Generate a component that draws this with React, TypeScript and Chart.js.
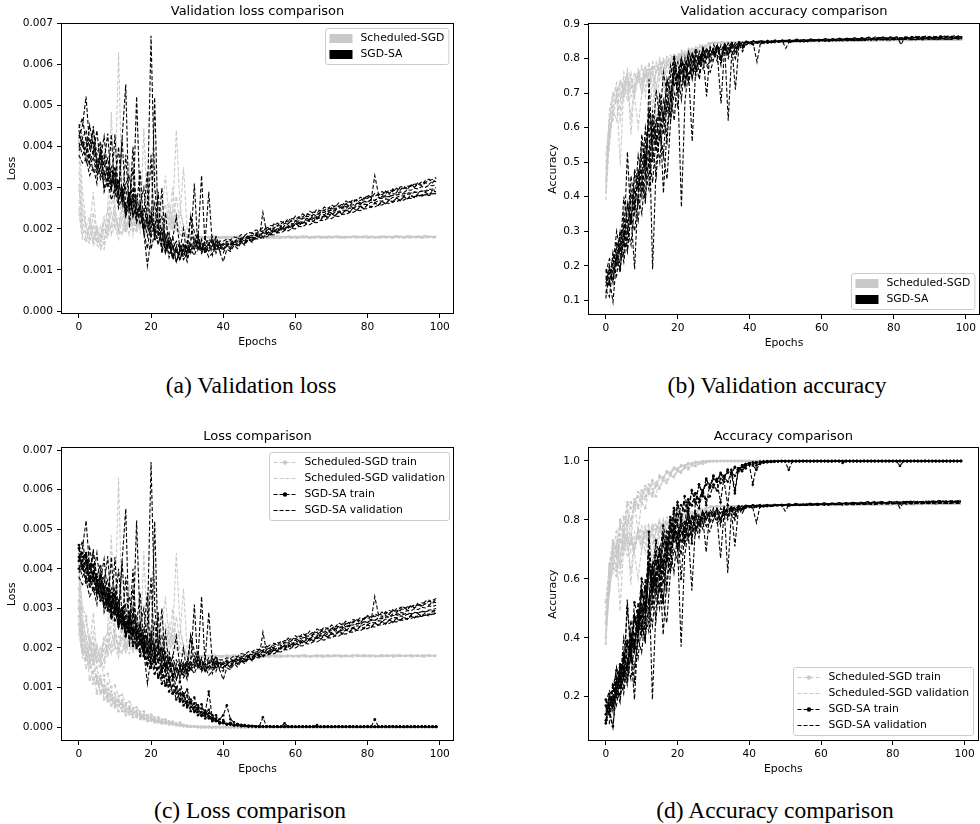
import React, { useEffect, useRef } from "react";
import { Chart, registerables } from "chart.js";

Chart.register(...registerables);

const FONT = "'DejaVu Sans', 'Liberation Sans', sans-serif";
const GRAY = "#c9c9c9";
const BLACK = "#000000";

// ---------- axes ----------
const EPOCHS = Array.from({ length: 100 }, (_, i) => i);
const X_TICKS = [0, 20, 40, 60, 80, 100];
const LOSS_TICKS = [0, 0.001, 0.002, 0.003, 0.004, 0.005, 0.006, 0.007];
const VAL_ACC_TICKS = [0.1, 0.2, 0.3, 0.4, 0.5, 0.6, 0.7, 0.8, 0.9];
const ACC_TICKS = [0.2, 0.4, 0.6, 0.8, 1.0];

// values below are stored in these units
const LOSS_UNIT = 1e-5; // loss values x 1e-5
const ACC_UNIT = 1e-3; // accuracy in per-mille

// ---------- Scheduled-SGD validation loss (8 runs) ----------
const SCHED_VAL_LOSS = [
  [380,250,205,230,178,210,170,215,200,260, 290,630,270,205,240,228,198,236,205,188, 240,198,226,190,205,186,221,196,188,182, 180,181,179,180,178,180,179,181,180,179, 180,178,179,181,180,179,180,178,179,180, 179,180,181,179,178,180,179,181,180,179, 180,179,181,180,178,180,181,179,180,181, 180,179,181,180,182,179,180,181,180,179, 181,180,179,181,180,182,180,179,181,180, 179,181,180,182,180,179,181,180,181,180],
  [300,220,185,210,168,200,180,220,240,485, 230,205,250,210,185,240,230,190,225,195, 210,185,230,200,185,210,240,440,260,200, 183,180,181,179,180,178,179,177,178,176, 177,176,178,177,175,177,176,178,177,176, 177,178,176,177,178,176,177,179,177,178, 176,177,178,177,179,178,177,178,176,178, 177,179,178,177,178,179,177,178,179,178, 177,178,179,177,178,179,178,177,179,178, 178,179,177,178,179,178,177,179,178,179],
  [270,200,175,165,210,160,152,200,195,240, 205,190,250,195,230,210,255,200,445,230, 200,235,215,250,330,220,195,235,185,182, 181,182,180,181,182,180,181,179,181,180, 181,182,180,181,180,182,181,180,181,182, 180,181,182,180,181,183,181,180,182,181, 182,180,181,183,181,182,180,182,181,183, 181,182,183,181,182,180,182,183,181,182, 183,181,182,180,182,183,181,182,183,182, 181,183,182,181,183,182,184,182,181,183],
  [250,185,168,200,290,180,160,150,205,190, 225,200,190,245,360,210,190,235,195,180, 220,200,260,195,218,185,230,200,186,183, 178,177,179,178,176,178,177,179,178,177, 178,179,177,178,176,178,179,177,178,179, 178,177,179,178,180,178,177,179,178,180, 179,178,180,179,177,179,180,178,179,180, 178,180,179,178,180,179,181,179,178,180, 179,181,180,178,180,179,181,180,179,181, 180,179,181,180,179,181,180,182,180,181],
  [340,240,200,180,165,200,150,170,220,200, 240,195,185,220,270,185,260,205,230,215, 200,380,220,195,200,260,215,235,230,350, 200,185,182,181,180,182,181,180,179,181, 180,181,179,180,182,180,181,179,180,181, 182,180,179,181,180,182,181,180,179,181, 180,182,181,179,180,181,182,180,181,179, 181,180,182,181,180,179,181,182,180,181, 180,182,181,180,181,179,182,181,180,182, 181,180,182,181,179,181,180,182,181,180],
  [420,290,210,180,195,165,185,230,180,210, 260,185,300,200,225,190,240,205,250,210, 230,200,245,210,235,205,250,220,200,190, 181,180,182,181,179,181,180,182,181,180, 179,181,180,182,181,180,179,181,182,180, 181,179,180,182,181,180,181,179,182,180, 181,180,182,181,179,180,182,181,180,181, 180,182,181,179,181,180,182,181,180,182, 181,180,179,181,182,180,181,180,182,181, 180,181,182,180,181,179,181,182,180,181],
  [240,175,170,215,160,175,205,165,250,185, 205,175,230,190,215,250,200,235,195,260, 215,240,205,230,260,210,300,215,240,210, 179,178,180,179,177,179,178,180,179,178, 177,179,178,180,179,178,177,179,180,178, 179,177,178,180,179,178,179,177,180,178, 179,178,180,179,177,178,180,179,178,179, 178,180,179,177,179,178,180,179,178,180, 179,178,177,179,180,178,179,178,180,179, 178,179,180,178,179,177,179,180,178,179],
  [310,200,190,170,240,165,175,200,185,330, 200,230,210,190,240,205,215,300,200,225, 250,210,235,200,220,240,205,280,215,195, 182,181,183,182,180,182,181,183,182,181, 180,182,181,183,182,181,180,182,183,181, 182,180,181,183,182,181,182,180,183,181, 182,181,183,182,180,181,183,182,181,182, 181,183,182,180,182,181,183,182,181,183, 182,181,180,182,183,181,182,181,183,182, 181,182,183,181,182,180,182,183,181,182],
];

// ---------- SGD-SA validation loss (9 runs) ----------
const SGDSA_VAL_LOSS = [
  [455,420,440,395,410,360,385,330,350,300, 320,270,300,240,280,262,215,250,200,262, 670,302,212,230,173,190,151,170,153,146, 170,141,162,190,146,175,161,156,180,161, 150,164,158,170,163,175,170,181,174,186, 187,181,196,189,201,193,207,199,214,206, 220,212,226,227,221,236,229,241,245,236, 251,243,256,249,262,254,267,271,262,276, 279,270,330,285,277,292,284,297,288,302, 304,295,309,301,314,306,318,321,312,324],
  [420,452,522,400,440,380,412,350,372,310, 352,290,422,552,203,302,230,262,192,151, 222,262,182,200,151,170,131,150,136,160, 141,175,181,150,171,141,161,180,141,166, 151,161,150,168,160,170,165,178,170,185, 178,240,192,185,198,191,203,196,209,201, 214,206,219,212,224,217,228,221,233,226, 238,230,242,235,246,240,251,244,255,248, 259,252,263,257,267,260,271,264,275,268, 279,272,283,276,286,280,289,283,292,290],
  [398,420,378,452,400,372,330,362,432,302, 340,262,300,232,272,242,522,252,222,182, 240,192,162,200,141,170,131,121,150,131, 162,232,192,172,330,152,131,141,170,146, 141,160,150,166,159,171,166,177,170,183, 182,191,186,198,191,202,197,208,202,213, 212,220,213,225,223,231,224,236,234,242, 239,247,240,252,249,258,250,262,259,268, 264,272,268,277,274,282,278,286,284,290, 288,295,294,299,297,303,301,306,305,308],
  [440,400,420,360,390,340,370,425,330,340, 300,320,270,300,250,400,230,260,190,110, 180,210,165,190,140,170,125,150,122,160, 132,165,150,180,150,170,290,160,180,145, 120,150,145,160,152,168,160,175,167,180, 180,176,190,184,196,190,202,196,207,201, 213,207,219,213,224,218,229,223,234,228, 238,232,243,237,247,241,251,245,255,250, 259,253,263,258,267,261,271,266,275,270, 277,273,280,276,282,279,284,281,286,285],
  [430,400,410,370,450,350,380,320,350,300, 330,280,420,250,280,230,260,340,200,230, 180,520,190,300,150,180,130,160,125,150, 120,160,310,150,175,140,170,135,160,150, 165,158,172,166,178,172,184,180,190,186, 197,192,205,199,212,207,218,213,225,219, 231,225,237,231,243,237,248,243,253,248, 258,253,263,258,268,262,272,268,277,272, 282,276,286,281,291,285,295,290,299,294, 303,298,306,301,309,305,312,308,316,315],
  [410,380,400,350,375,330,350,300,330,290, 430,270,300,250,290,230,260,210,240,340, 150,190,290,140,175,130,160,120,150,125, 140,230,155,170,145,160,150,175,150,165, 160,170,165,173,170,178,176,184,183,190, 190,195,196,201,202,207,208,213,214,219, 219,224,225,230,230,235,235,240,240,245, 245,250,250,254,254,258,258,262,262,266, 266,270,270,274,274,278,278,282,282,285, 285,288,287,290,289,292,291,294,294,295],
  [390,410,360,380,340,360,320,340,300,430, 280,320,260,380,240,280,230,260,300,200, 230,180,210,160,240,150,180,140,165,135, 160,145,175,150,165,140,155,150,170,160, 158,166,162,170,168,175,172,180,178,185, 183,190,188,195,193,200,198,205,203,210, 208,216,213,221,218,226,224,231,229,236, 234,241,239,246,244,251,249,256,254,260, 259,265,263,269,267,273,271,277,276,281, 280,285,284,289,288,293,292,296,297,300],
  [445,470,410,420,380,440,350,380,320,350, 300,400,280,310,330,260,280,230,250,210, 230,190,210,170,190,160,175,230,150,165, 145,160,150,170,155,160,175,165,160,170, 170,175,173,180,178,186,184,191,190,197, 196,203,201,208,207,214,212,219,218,225, 223,230,229,236,234,241,239,246,245,251, 249,256,254,261,259,266,264,271,269,275, 274,280,279,285,283,290,288,294,293,299, 298,304,303,309,308,314,313,318,320,325],
  [380,360,370,330,350,310,400,290,320,270, 300,250,280,230,260,350,220,240,190,220, 380,170,190,150,175,140,160,120,145,200, 130,150,135,160,140,155,145,160,150,155, 148,158,155,162,160,166,165,172,170,176, 175,181,180,186,185,191,190,196,195,201, 200,206,205,211,210,216,215,221,220,226, 225,231,230,236,235,240,240,245,244,249, 249,254,253,258,258,263,262,267,266,271, 270,275,274,279,278,283,282,286,285,288],
];

// ---------- Scheduled-SGD validation accuracy (8 runs) ----------
const SCHED_VAL_ACC = [
  [390,560,640,690,620,720,680,740,700,750, 700,760,730,770,720,770,750,790,760,800, 780,810,790,820,800,830,815,835,825,840, 845,846,845,847,846,848,847,848,847,848, 849,848,847,849,848,850,849,848,850,849, 848,850,849,851,850,849,850,851,849,850, 851,850,849,851,850,852,851,850,851,852, 850,851,852,851,850,852,851,853,852,851, 852,853,851,852,853,852,851,853,852,854, 853,852,854,853,852,853,854,853,852,854],
  [450,600,660,700,490,720,760,690,720,760, 700,750,770,720,760,780,740,790,760,800, 805,780,800,820,800,830,820,832,840,842, 846,845,847,846,845,847,846,848,847,846, 847,848,846,847,849,848,847,849,848,847, 849,848,850,849,848,850,849,848,850,849, 850,849,851,850,849,851,850,852,851,850, 851,852,850,851,852,851,853,852,851,852, 853,851,852,853,852,854,853,852,853,852, 854,853,852,854,853,855,854,853,854,855],
  [520,620,700,720,680,730,750,580,720,740, 770,720,760,780,600,770,790,760,800,810, 790,815,800,820,830,810,835,825,838,843, 845,844,846,845,847,846,845,847,846,848, 847,846,848,847,849,848,847,849,848,850, 849,848,850,849,851,850,849,851,850,849, 851,850,852,851,850,852,851,850,852,851, 853,852,851,853,852,851,853,852,854,853, 852,854,853,852,854,853,855,854,853,854, 855,854,853,855,854,853,855,854,856,855],
  [420,580,650,620,720,740,700,760,690,600, 700,760,720,760,790,740,800,550,790,805, 780,820,800,825,810,835,820,838,830,844, 846,847,846,848,847,846,848,847,849,848, 847,849,848,850,849,848,850,849,848,850, 849,851,850,849,851,850,852,851,850,851, 852,851,850,852,851,853,852,851,853,852, 851,853,852,854,853,852,853,854,853,852, 854,853,855,854,853,855,854,853,855,854, 853,855,854,856,855,854,855,856,855,854],
  [480,620,690,710,650,760,720,730,700,770, 730,780,720,790,760,800,770,810,780,815, 800,825,810,830,815,832,825,842,835,846, 847,846,848,847,846,848,847,849,848,847, 849,848,850,849,848,850,849,851,850,849, 850,851,849,850,852,851,850,852,851,850, 852,851,853,852,851,852,853,852,851,853, 852,854,853,852,854,853,852,854,853,855, 854,853,855,854,853,855,854,856,855,854, 855,856,854,855,856,855,854,856,855,856],
  [440,650,700,670,740,700,770,740,690,750, 780,740,790,650,780,760,800,780,810,790, 815,800,825,810,830,820,838,828,842,845, 846,847,845,848,846,847,849,847,848,846, 848,849,847,848,850,848,849,847,849,850, 848,849,851,849,850,848,850,851,849,850, 852,850,851,849,851,852,850,851,853,851, 852,850,852,853,851,852,854,852,853,851, 853,854,852,853,851,853,854,852,853,855, 853,854,852,854,855,853,854,852,854,855],
  [500,540,680,730,700,680,740,710,760,730, 750,690,770,750,700,790,760,800,780,720, 810,790,820,805,830,815,840,830,844,846, 847,845,848,846,847,845,848,846,849,847, 848,846,849,847,850,848,849,847,850,848, 851,849,850,848,851,849,852,850,851,849, 852,850,853,851,852,850,853,851,854,852, 853,851,854,852,853,851,854,852,855,853, 854,852,855,853,854,852,855,853,856,854, 855,853,856,854,855,853,856,854,855,854],
  [410,600,620,700,730,690,750,620,740,760, 720,770,740,780,760,800,720,790,800,810, 790,820,800,830,820,835,828,840,836,846, 848,847,849,848,846,848,847,849,848,847, 849,848,850,849,847,849,848,850,849,848, 850,849,851,850,848,850,849,851,850,849, 851,850,852,851,849,851,850,852,851,850, 852,851,853,852,850,852,851,853,852,851, 853,852,854,853,851,853,852,854,853,852, 854,853,855,854,852,854,853,855,854,853],
];

// ---------- SGD-SA validation accuracy (9 runs) ----------
const SGDSA_VAL_ACC = [
  [190,150,230,200,300,260,380,330,460,420, 560,480,650,550,620,560,680,640,750,810, 740,780,720,800,760,820,780,830,800,825, 810,835,800,840,815,845,825,848,835,850, 842,852,845,850,846,853,848,852,849,854, 850,855,852,856,851,855,853,857,852,856, 854,858,853,857,855,859,854,858,856,860, 855,859,857,861,856,860,858,862,857,861, 859,862,858,863,860,862,859,864,861,863, 860,864,862,865,861,864,863,866,862,865],
  [140,180,160,230,300,260,530,320,420,380, 520,460,620,190,500,580,520,680,620,760, 790,720,780,740,820,770,790,830,800,835, 820,840,800,845,825,846,838,849,840,852, 845,850,846,851,848,852,847,851,849,853, 850,852,849,853,851,850,852,854,851,853, 852,854,851,855,852,854,853,855,852,856, 853,855,854,856,853,857,854,856,855,857, 854,856,855,857,853,856,855,858,854,857, 855,857,854,858,856,857,855,858,856,857],
  [120,160,95,220,180,330,250,350,190,420, 480,380,740,500,620,650,410,600,680,780, 700,760,720,800,740,820,780,810,830,800, 840,810,670,830,800,835,710,840,820,848, 846,850,843,849,846,851,845,852,848,851, 851,848,853,850,852,849,854,851,853,850, 854,851,855,852,854,851,856,853,855,852, 857,854,856,853,858,855,857,854,859,856, 858,855,860,857,859,856,861,858,860,857, 862,858,861,859,863,860,862,858,861,860],
  [105,200,150,250,200,300,270,400,350,480, 420,560,480,620,560,680,620,740,700,800, 720,370,680,760,560,780,740,820,780,760, 800,830,790,840,620,820,800,845,830,846, 848,842,849,845,850,846,851,847,852,848, 850,847,851,849,852,848,853,850,852,849, 853,850,854,851,853,852,855,851,854,852, 855,852,856,853,855,852,857,854,856,853, 857,854,856,855,858,854,857,855,858,856, 857,855,859,856,858,855,859,857,858,857],
  [170,140,240,200,280,230,380,320,480,420, 580,500,660,560,710,620,760,700,780,720, 750,800,760,820,790,830,800,810,690,830, 810,840,820,815,835,845,800,845,830,848, 845,840,790,848,843,849,846,850,847,851, 830,850,848,852,849,853,850,854,851,855, 852,856,853,857,854,858,855,859,856,860, 857,861,858,862,859,863,860,862,858,863, 860,862,840,861,863,860,864,861,863,860, 864,861,863,860,865,862,864,861,866,863],
  [150,190,160,230,190,300,240,350,300,400, 350,470,420,540,460,600,520,450,620,700, 660,780,720,800,740,800,760,820,780,790, 820,790,800,840,810,838,815,842,830,840, 846,838,847,842,848,844,849,845,850,846, 851,847,849,852,848,853,849,852,850,854, 851,853,850,854,852,855,851,854,853,856, 852,855,854,857,853,856,855,858,854,857, 856,859,855,858,857,860,856,859,858,861, 857,860,859,862,858,861,860,863,859,862],
  [160,200,180,270,230,350,290,420,360,470, 400,520,450,600,530,640,580,700,640,760, 700,800,740,780,810,760,820,790,830,810, 830,800,840,820,845,830,846,835,848,840, 849,843,850,845,851,846,852,848,851,849, 853,849,852,850,854,851,853,850,855,852, 854,851,856,853,855,852,857,854,856,853, 858,855,857,854,859,856,858,855,860,857, 859,856,861,858,860,857,862,859,861,858, 862,859,861,860,863,860,862,859,864,861],
  [130,110,200,170,260,210,310,260,380,330, 450,390,520,440,580,500,640,560,700,620, 760,680,800,730,780,750,810,770,820,790, 800,830,780,840,810,845,820,846,836,850, 841,849,844,851,846,850,845,852,848,851, 849,852,848,853,850,851,849,854,850,853, 851,854,850,855,852,853,851,856,852,855, 853,856,852,857,854,855,853,858,854,857, 855,858,853,857,856,859,854,858,857,860, 856,859,855,860,857,858,856,861,857,860],
  [180,220,200,300,240,400,320,460,380,520, 460,600,520,650,560,700,620,740,680,780, 740,800,770,820,780,810,790,830,800,826, 816,838,822,843,828,845,832,848,838,850, 846,852,848,853,849,852,848,854,850,853, 852,855,851,856,853,855,852,857,854,856, 855,858,854,857,856,859,855,858,857,860, 856,859,858,861,857,860,859,862,858,861, 860,863,859,862,861,864,860,863,862,865, 861,864,863,866,862,865,864,866,863,865],
];

// ---------- Scheduled-SGD train loss (7 runs) ----------
const SCHED_TRAIN_LOSS = [
  [380,260,230,160,180,115,130,85,110,70, 85,55,68,40,52,35,42,27,33,20, 26,15,20,12,15,9,11,7,6,4, 3,2,1,1,1,1,0,0,0,0, 0,0,0,0,0,0,0,0,0,0, 0,0,0,0,0,0,0,0,0,0, 0,0,0,0,0,0,0,0,0,0, 0,0,0,0,0,0,0,0,0,0, 0,0,0,0,0,0,0,0,0,0, 0,0,0,0,0,0,0,0,0,0],
  [300,240,170,180,120,130,90,105,70,80, 55,65,60,40,48,32,38,25,30,30, 22,14,18,10,13,8,9,5,6,3, 2,1,1,1,0,0,0,0,0,0, 0,0,0,0,0,0,0,0,0,0, 0,0,0,0,0,0,0,0,0,0, 0,0,0,0,0,0,0,0,0,0, 0,0,0,0,0,0,0,0,0,0, 0,0,0,0,0,0,0,0,0,0, 0,0,0,0,0,0,0,0,0,0],
  [260,190,200,120,140,85,120,70,85,55, 65,40,50,30,45,25,32,20,25,15, 18,12,14,9,15,7,8,5,4,2, 1,1,1,0,0,0,0,0,0,0, 0,0,0,0,0,0,0,0,0,0, 0,0,0,0,0,0,0,0,0,0, 0,0,0,0,0,0,0,0,0,0, 0,0,0,0,0,0,0,0,0,0, 0,0,0,0,0,0,0,0,0,0, 0,0,0,0,0,0,0,0,0,0],
  [350,240,270,200,170,150,110,120,80,90, 60,70,48,55,38,44,30,34,24,26, 19,20,14,15,10,11,8,7,12,4, 3,2,2,1,1,1,0,0,0,0, 0,0,0,0,0,0,0,0,0,0, 0,0,0,0,0,0,0,0,0,0, 0,0,0,0,0,0,0,0,0,0, 0,0,0,0,0,0,0,0,0,0, 0,0,0,0,0,0,0,0,0,0, 0,0,0,0,0,0,0,0,0,0],
  [400,300,280,220,210,165,170,130,135,100, 105,78,82,60,64,48,50,38,40,30, 32,24,25,19,20,15,14,10,9,6, 4,3,2,2,1,1,1,0,0,0, 0,0,0,0,0,0,0,0,0,0, 0,0,0,0,0,0,0,0,0,0, 0,0,0,0,0,0,0,0,0,0, 0,0,0,0,0,0,0,0,0,0, 0,0,0,0,0,0,0,0,0,0, 0,0,0,0,0,0,0,0,0,0],
  [320,210,180,150,160,110,120,90,95,70, 75,55,58,45,46,36,37,29,30,23, 24,18,19,14,15,11,10,8,6,4, 3,2,1,1,0,0,0,0,0,0, 0,0,0,0,0,0,0,0,0,0, 0,0,0,0,0,0,0,0,0,0, 0,0,0,0,0,0,0,0,0,0, 0,0,0,0,0,0,0,0,0,0, 0,0,0,0,0,0,0,0,0,0, 0,0,0,0,0,0,0,0,0,0],
  [280,200,150,170,110,125,85,95,65,72, 50,56,40,44,32,35,25,28,20,22, 16,17,12,13,9,10,7,6,4,3, 2,1,1,0,0,0,0,0,0,0, 0,0,0,0,0,0,0,0,0,0, 0,0,0,0,0,0,0,0,0,0, 0,0,0,0,0,0,0,0,0,0, 0,0,0,0,0,0,0,0,0,0, 0,0,0,0,0,0,0,0,0,0, 0,0,0,0,0,0,0,0,0,0],
];

// ---------- SGD-SA train loss (5 runs) ----------
const SGDSA_TRAIN_LOSS = [
  [452,400,435,370,390,340,360,310,335,285, 300,260,285,230,270,215,240,190,225,175, 200,150,170,125,145,105,120,85,95,65, 80,50,60,38,48,28,35,18,22,11, 14,8,10,5,6,3,4,2,3,2, 2,1,2,1,1,2,1,1,1,2, 1,1,2,1,1,1,2,1,1,1, 1,2,1,1,1,1,2,1,1,1, 1,1,20,1,1,1,2,1,1,1, 1,1,1,2,1,1,1,1,1,1],
  [420,440,400,410,370,380,340,350,310,330, 290,300,260,280,240,250,205,235,180,200, 160,180,130,150,105,125,85,100,70,85, 55,70,40,55,30,42,22,30,15,20, 30,55,20,12,8,6,5,4,3,2, 2,25,2,2,1,1,1,2,1,1, 1,1,1,2,1,1,1,1,2,1, 1,1,1,1,2,1,1,1,1,1, 2,1,1,1,1,1,1,2,1,1, 1,1,1,1,1,2,1,1,1,1],
  [400,420,375,390,350,365,320,340,295,315, 270,290,250,265,225,245,200,220,180,195, 150,170,125,145,105,120,85,100,65,80, 50,62,38,48,28,36,90,20,16,12, 10,8,6,5,4,3,3,2,2,2, 1,2,1,1,1,1,1,10,1,1, 1,1,1,1,1,2,1,1,1,1, 1,1,2,1,1,1,1,1,1,2, 1,1,1,1,1,2,1,1,1,1, 1,2,1,1,1,1,1,1,2,1],
  [460,430,440,400,410,370,380,340,350,310, 330,280,300,260,280,235,255,210,230,190, 210,165,185,140,160,120,135,100,115,80, 95,62,75,46,58,34,44,22,30,12, 18,8,11,5,7,3,4,2,3,2, 2,2,1,2,1,1,1,1,2,1, 1,1,1,1,1,1,5,1,1,1, 1,1,1,2,1,1,1,1,1,1, 1,1,1,1,2,1,1,1,1,1, 1,1,1,1,1,1,2,1,1,1],
  [430,400,420,370,390,340,360,310,330,280, 300,255,275,230,250,205,225,180,200,160, 175,135,150,110,130,90,105,70,85,55, 65,40,50,30,38,22,28,15,18,9, 12,6,8,4,5,3,3,2,2,1, 1,1,1,1,2,1,1,1,1,1, 1,2,1,1,1,1,1,1,1,2, 1,1,1,1,1,2,1,1,1,1, 1,1,1,1,1,1,1,2,1,1, 1,1,1,2,1,1,1,1,1,1],
];

// ---------- Scheduled-SGD train accuracy (5 runs) ----------
const SCHED_TRAIN_ACC = [
  [400,580,680,640,780,740,830,800,860,840, 880,870,900,890,925,910,940,935,955,950, 970,965,980,978,988,985,993,992,997,998, 999,1000,1000,1000,1000,1000,1000,1000,1000,1000, 1000,1000,1000,1000,1000,1000,1000,1000,1000,1000, 1000,1000,1000,1000,1000,1000,1000,1000,1000,1000, 1000,1000,1000,1000,1000,1000,1000,1000,1000,1000, 1000,1000,1000,1000,1000,1000,1000,1000,1000,1000, 1000,1000,1000,1000,1000,1000,1000,1000,1000,1000, 1000,1000,1000,1000,1000,1000,1000,1000,1000,1000],
  [450,620,700,760,650,810,780,860,840,880, 870,905,890,925,915,945,935,960,955,972, 968,982,980,990,988,995,994,998,999,1000, 1000,1000,1000,1000,1000,1000,1000,1000,1000,1000, 1000,1000,1000,1000,1000,1000,1000,1000,1000,1000, 1000,1000,1000,1000,1000,1000,1000,1000,1000,1000, 1000,1000,1000,1000,1000,1000,1000,1000,1000,1000, 1000,1000,1000,1000,1000,1000,1000,1000,1000,1000, 1000,1000,1000,1000,1000,1000,1000,1000,1000,1000, 1000,1000,1000,1000,1000,1000,1000,1000,1000,1000],
  [520,650,730,700,800,760,850,720,870,850, 900,880,920,905,880,950,940,965,960,975, 972,985,982,990,990,995,996,998,999,1000, 1000,1000,1000,1000,1000,1000,1000,1000,1000,1000, 1000,1000,1000,1000,1000,1000,1000,1000,1000,1000, 1000,1000,1000,1000,1000,1000,1000,1000,1000,1000, 1000,1000,1000,1000,1000,1000,1000,1000,1000,1000, 1000,1000,1000,1000,1000,1000,1000,1000,1000,1000, 1000,1000,1000,1000,1000,1000,1000,1000,1000,1000, 1000,1000,1000,1000,1000,1000,1000,1000,1000,1000],
  [380,560,650,610,750,720,800,780,850,760, 860,840,895,880,915,905,935,925,950,945, 965,960,976,972,985,982,991,990,996,998, 999,999,1000,1000,1000,1000,1000,1000,1000,1000, 1000,1000,1000,1000,1000,1000,1000,1000,1000,1000, 1000,1000,1000,1000,1000,1000,1000,1000,1000,1000, 1000,1000,1000,1000,1000,1000,1000,1000,1000,1000, 1000,1000,1000,1000,1000,1000,1000,1000,1000,1000, 1000,1000,1000,1000,1000,1000,1000,1000,1000,1000, 1000,1000,1000,1000,1000,1000,1000,1000,1000,1000],
  [480,640,720,690,800,780,860,840,850,895, 880,915,905,935,925,950,945,965,960,978, 975,986,985,993,992,997,996,999,1000,1000, 1000,1000,1000,1000,1000,1000,1000,1000,1000,1000, 1000,1000,1000,1000,1000,1000,1000,1000,1000,1000, 1000,1000,1000,1000,1000,1000,1000,1000,1000,1000, 1000,1000,1000,1000,1000,1000,1000,1000,1000,1000, 1000,1000,1000,1000,1000,1000,1000,1000,1000,1000, 1000,1000,1000,1000,1000,1000,1000,1000,1000,1000, 1000,1000,1000,1000,1000,1000,1000,1000,1000,1000],
];

// ---------- SGD-SA train accuracy (5 runs) ----------
const SGDSA_TRAIN_ACC = [
  [190,160,240,210,300,270,380,340,470,420, 560,500,640,600,680,640,740,700,800,760, 860,810,880,840,900,860,920,890,940,910, 950,930,960,945,970,955,978,965,985,975, 990,988,993,995,996,997,998,998,999,999, 999,970,998,999,1000,999,1000,999,1000,1000, 999,1000,1000,999,1000,1000,1000,999,1000,1000, 1000,999,1000,1000,1000,1000,999,1000,1000,1000, 1000,1000,983,1000,999,1000,1000,1000,999,1000, 1000,1000,1000,999,1000,1000,1000,1000,1000,1000],
  [140,170,190,250,310,280,500,380,470,420, 560,500,650,560,660,600,720,660,790,740, 850,800,860,820,900,860,920,880,940,910, 950,930,955,940,970,960,980,970,985,990, 992,995,996,997,998,999,999,1000,999,1000, 1000,999,1000,1000,999,1000,1000,1000,1000,999, 1000,1000,999,1000,1000,1000,999,1000,1000,1000, 999,1000,1000,1000,1000,999,1000,1000,1000,1000, 1000,999,1000,1000,1000,1000,1000,999,1000,1000, 1000,1000,999,1000,1000,1000,1000,1000,999,1000],
  [120,140,100,230,270,340,300,370,250,440, 500,430,760,560,620,700,520,680,760,840, 820,800,790,860,850,890,870,900,920,910, 940,930,860,950,960,970,900,975,980,985, 988,920,985,990,995,997,998,999,999,1000, 999,1000,1000,999,1000,1000,999,1000,1000,1000, 1000,999,1000,1000,1000,999,1000,1000,1000,999, 1000,1000,1000,999,1000,1000,1000,1000,999,1000, 1000,1000,1000,1000,999,1000,1000,1000,1000,1000, 999,1000,1000,1000,1000,999,1000,1000,1000,1000],
  [110,210,170,260,230,330,300,410,370,490, 440,570,520,640,590,700,650,760,720,830, 780,600,760,830,720,860,840,900,870,880, 920,900,940,930,850,960,950,975,970,990, 993,995,996,997,998,999,999,999,1000,1000, 999,1000,999,1000,1000,1000,1000,999,1000,1000, 1000,1000,1000,999,1000,1000,993,1000,1000,1000, 1000,999,1000,1000,1000,1000,1000,999,1000,1000, 999,1000,1000,1000,1000,999,1000,1000,1000,1000, 1000,1000,1000,1000,999,1000,1000,1000,1000,1000],
  [170,150,230,290,260,330,390,360,520,470, 600,560,680,620,730,680,780,720,810,770, 800,850,830,870,850,890,860,900,850,920, 910,940,925,945,930,960,890,975,965,984, 988,985,970,992,995,996,997,998,999,999, 1000,999,1000,1000,999,1000,1000,1000,999,1000, 1000,1000,999,1000,1000,1000,1000,1000,999,1000, 1000,1000,1000,1000,999,1000,1000,1000,1000,999, 1000,1000,1000,999,1000,1000,1000,1000,1000,1000, 1000,999,1000,1000,1000,1000,999,1000,1000,1000],
];

// ---------- text ----------
const TITLES = ["Validation loss comparison", "Validation accuracy comparison", "Loss comparison", "Accuracy comparison"];
const CAPTIONS = ["(a) Validation loss", "(b) Validation accuracy", "(c) Loss comparison", "(d) Accuracy comparison"];
const PATCH_LABELS = ["Scheduled-SGD", "SGD-SA"];
const LINE_LABELS = ["Scheduled-SGD train", "Scheduled-SGD validation", "SGD-SA train", "SGD-SA validation"];

type LegendItem = { label: string; kind: "patch" | "line"; color: string; marker?: boolean };
type Series = { runs: number[][]; unit: number; color: string; marker: boolean; order: number };
type Spec = {
  left: number; top: number; width: number; height: number;
  area: { left: number; top: number; right: number; bottom: number };
  title: string; yLabel: string; yLabelX: number;
  yMin: number; yMax: number; yTicks: number[]; yDigits: number;
  series: Series[]; legend: LegendItem[]; corner: "upper right" | "lower right";
};

const PATCH_LEGEND: LegendItem[] = [
  { label: PATCH_LABELS[0], kind: "patch", color: GRAY },
  { label: PATCH_LABELS[1], kind: "patch", color: BLACK },
];
const LINE_LEGEND: LegendItem[] = [
  { label: LINE_LABELS[0], kind: "line", color: GRAY, marker: true },
  { label: LINE_LABELS[1], kind: "line", color: GRAY },
  { label: LINE_LABELS[2], kind: "line", color: BLACK, marker: true },
  { label: LINE_LABELS[3], kind: "line", color: BLACK },
];

const SPECS: Spec[] = [
  {
    left: 0, top: 0, width: 470, height: 354,
    area: { left: 61, top: 23, right: 454, bottom: 314 },
    title: TITLES[0], yLabel: "Loss", yLabelX: 12.2,
    yMin: -0.000073, yMax: 0.00701, yTicks: LOSS_TICKS, yDigits: 3,
    series: [
      { runs: SCHED_VAL_LOSS, unit: LOSS_UNIT, color: GRAY, marker: false, order: 3 },
      { runs: SGDSA_VAL_LOSS, unit: LOSS_UNIT, color: BLACK, marker: false, order: 1 },
    ],
    legend: PATCH_LEGEND, corner: "upper right",
  },
  {
    left: 490, top: 0, width: 490, height: 355,
    area: { left: 98, top: 23, right: 490, bottom: 315 },
    title: TITLES[1], yLabel: "Accuracy", yLabelX: 63.3,
    yMin: 0.0574, yMax: 0.9029, yTicks: VAL_ACC_TICKS, yDigits: 1,
    series: [
      { runs: SCHED_VAL_ACC, unit: ACC_UNIT, color: GRAY, marker: false, order: 3 },
      { runs: SGDSA_VAL_ACC, unit: ACC_UNIT, color: BLACK, marker: false, order: 1 },
    ],
    legend: PATCH_LEGEND, corner: "lower right",
  },
  {
    left: 0, top: 430, width: 470, height: 351,
    area: { left: 61, top: 17.3, right: 454, bottom: 311 },
    title: TITLES[2], yLabel: "Loss", yLabelX: 12.2,
    yMin: -0.00035, yMax: 0.00707, yTicks: LOSS_TICKS, yDigits: 3,
    series: [
      { runs: SCHED_TRAIN_LOSS, unit: LOSS_UNIT, color: GRAY, marker: true, order: 4 },
      { runs: SCHED_VAL_LOSS, unit: LOSS_UNIT, color: GRAY, marker: false, order: 3 },
      { runs: SGDSA_TRAIN_LOSS, unit: LOSS_UNIT, color: BLACK, marker: true, order: 2 },
      { runs: SGDSA_VAL_LOSS, unit: LOSS_UNIT, color: BLACK, marker: false, order: 1 },
    ],
    legend: LINE_LEGEND, corner: "upper right",
  },
  {
    left: 490, top: 430, width: 490, height: 351,
    area: { left: 98, top: 17.3, right: 490, bottom: 311 },
    title: TITLES[3], yLabel: "Accuracy", yLabelX: 63.3,
    yMin: 0.0496, yMax: 1.0465, yTicks: ACC_TICKS, yDigits: 1,
    series: [
      { runs: SCHED_TRAIN_ACC, unit: ACC_UNIT, color: GRAY, marker: true, order: 4 },
      { runs: SCHED_VAL_ACC, unit: ACC_UNIT, color: GRAY, marker: false, order: 3 },
      { runs: SGDSA_TRAIN_ACC, unit: ACC_UNIT, color: BLACK, marker: true, order: 2 },
      { runs: SGDSA_VAL_ACC, unit: ACC_UNIT, color: BLACK, marker: false, order: 1 },
    ],
    legend: LINE_LEGEND, corner: "lower right",
  },
];

const TICK_FONT = { family: FONT, size: 10.6 };
const LABEL_FONT = { family: FONT, size: 10.8 };

function framePlugin() {
  return {
    id: "mplFrame",
    afterDatasetsDraw(chart: any) {
      const { ctx, chartArea: a } = chart;
      ctx.save();
      ctx.strokeStyle = "#000";
      ctx.lineWidth = 1;
      ctx.strokeRect(Math.round(a.left) + 0.5, Math.round(a.top) + 0.5, Math.round(a.right - a.left) - 1, Math.round(a.bottom - a.top) - 1);
      ctx.restore();
    },
  };
}

function legendPlugin(items: LegendItem[], corner: string) {
  return {
    id: "mplLegend",
    afterDatasetsDraw(chart: any) {
      const { ctx, chartArea: a } = chart;
      ctx.save();
      ctx.font = `10.8px ${FONT}`;
      const textW = Math.max(...items.map((i) => ctx.measureText(i.label).width));
      const padL = 4.5, handleW = 23, gap = 8, padR = 4, rowH = 16, padV = 10;
      const w = padL + handleW + gap + textW + padR;
      const h = padV * 2 + rowH * (items.length - 1);
      const x = Math.round(a.right - 5.5 - w);
      const y = Math.round(corner === "upper right" ? a.top + 4.5 : a.bottom - 6.5 - h);
      ctx.beginPath();
      ctx.roundRect(x + 0.5, y + 0.5, w, h, 2.5);
      ctx.fillStyle = "rgba(255,255,255,0.8)";
      ctx.fill();
      ctx.strokeStyle = "#cccccc";
      ctx.lineWidth = 1;
      ctx.stroke();
      items.forEach((it, k) => {
        const cy = y + padV + k * rowH + 0.5;
        const hx = x + padL;
        if (it.kind === "patch") {
          ctx.fillStyle = it.color;
          ctx.fillRect(hx, cy - 4.5, handleW, 9);
        } else {
          ctx.strokeStyle = it.color;
          ctx.lineWidth = 1.1;
          ctx.setLineDash([4, 2]);
          ctx.beginPath();
          ctx.moveTo(hx, cy);
          ctx.lineTo(hx + handleW, cy);
          ctx.stroke();
          ctx.setLineDash([]);
          if (it.marker) {
            ctx.fillStyle = it.color;
            ctx.beginPath();
            ctx.arc(hx + handleW / 2, cy, 2.2, 0, Math.PI * 2);
            ctx.fill();
          }
        }
        ctx.fillStyle = "#000";
        ctx.textAlign = "left";
        ctx.textBaseline = "middle";
        ctx.fillText(it.label, hx + handleW + gap, cy);
      });
      ctx.restore();
    },
  };
}

function titlePlugin(text: string) {
  return {
    id: "mplTitle",
    afterDraw(chart: any) {
      const { ctx, chartArea: a } = chart;
      ctx.save();
      ctx.font = `13px ${FONT}`;
      ctx.fillStyle = "#000";
      ctx.textAlign = "center";
      ctx.textBaseline = "middle";
      ctx.fillText(text, (a.left + a.right) / 2, a.top - 11);
      ctx.restore();
    },
  };
}

function buildConfig(s: Spec): any {
  const datasets: any[] = [];
  s.series.forEach((ser) => {
    ser.runs.forEach((run) => {
      datasets.push({
        data: run.map((v, i) => ({ x: EPOCHS[i], y: v * ser.unit })),
        borderColor: ser.color,
        backgroundColor: ser.color,
        borderWidth: 1.1,
        borderDash: [4, 2],
        pointRadius: ser.marker ? 1.3 : 0,
        pointHoverRadius: 0,
        pointBorderWidth: 0,
        pointBackgroundColor: ser.color,
        fill: false,
        tension: 0,
        order: ser.order,
      });
    });
  });
  const lh = LABEL_FONT.size * 1.2;
  const xAxisH = s.height - s.area.bottom;
  return {
    type: "line",
    data: { datasets },
    options: {
      responsive: false,
      maintainAspectRatio: false,
      animation: false,
      devicePixelRatio: 1,
      events: [],
      parsing: false,
      normalized: true,
      layout: { padding: { left: 0, top: s.area.top, right: s.width - s.area.right, bottom: 0 } },
      plugins: { legend: { display: false }, tooltip: { enabled: false }, title: { display: false } },
      scales: {
        x: {
          type: "linear",
          min: -4.95,
          max: 103.95,
          afterBuildTicks: (sc: any) => { sc.ticks = X_TICKS.map((v) => ({ value: v })); },
          afterFit: (sc: any) => { sc.height = xAxisH; },
          ticks: { color: "#000", font: TICK_FONT, padding: 3, maxRotation: 0, autoSkip: false, callback: (v: any) => String(v) },
          grid: { display: true, drawOnChartArea: false, drawTicks: true, tickLength: 4, color: "#000", tickColor: "#000", lineWidth: 1 },
          border: { display: false },
          title: { display: true, text: "Epochs", color: "#000", font: LABEL_FONT, padding: { top: 0, bottom: xAxisH - 28.4 - lh / 2 } },
        },
        y: {
          type: "linear",
          min: s.yMin,
          max: s.yMax,
          afterBuildTicks: (sc: any) => { sc.ticks = s.yTicks.map((v) => ({ value: v })); },
          afterFit: (sc: any) => { sc.width = s.area.left; },
          ticks: { color: "#000", font: TICK_FONT, padding: 4, autoSkip: false, callback: (v: any) => Number(v).toFixed(s.yDigits) },
          grid: { display: true, drawOnChartArea: false, drawTicks: true, tickLength: 4, color: "#000", tickColor: "#000", lineWidth: 1 },
          border: { display: false },
          title: { display: true, text: s.yLabel, color: "#000", font: LABEL_FONT, padding: { top: s.yLabelX - lh / 2, bottom: 0 } },
        },
      },
    },
    plugins: [framePlugin(), legendPlugin(s.legend, s.corner), titlePlugin(s.title)],
  };
}

function Panel({ spec }: { spec: Spec }) {
  const ref = useRef<HTMLCanvasElement | null>(null);
  useEffect(() => {
    if (!ref.current) return;
    const chart = new Chart(ref.current, buildConfig(spec));
    return () => chart.destroy();
  }, [spec]);
  return (
    <canvas
      ref={ref}
      width={spec.width}
      height={spec.height}
      style={{ position: "absolute", left: spec.left, top: spec.top, width: spec.width, height: spec.height }}
    />
  );
}

const CAPTION_POS = [
  { cx: 251, cy: 385 },
  { cx: 777, cy: 385 },
  { cx: 250, cy: 810 },
  { cx: 775, cy: 810 },
];

export default function App() {
  return (
    <div style={{ position: "absolute", left: 0, top: 0, width: 980, height: 824, background: "#fff", overflow: "hidden" }}>
      {SPECS.map((s, i) => (
        <Panel key={i} spec={s} />
      ))}
      {CAPTIONS.map((c, i) => (
        <div
          key={c}
          style={{
            position: "absolute",
            left: CAPTION_POS[i].cx - 200,
            top: CAPTION_POS[i].cy - 14,
            width: 400,
            textAlign: "center",
            fontFamily: "'Liberation Serif', 'Times New Roman', serif",
            fontSize: 23.5,
            lineHeight: "28px",
            color: "#000",
            whiteSpace: "nowrap",
          }}
        >
          {c}
        </div>
      ))}
    </div>
  );
}
